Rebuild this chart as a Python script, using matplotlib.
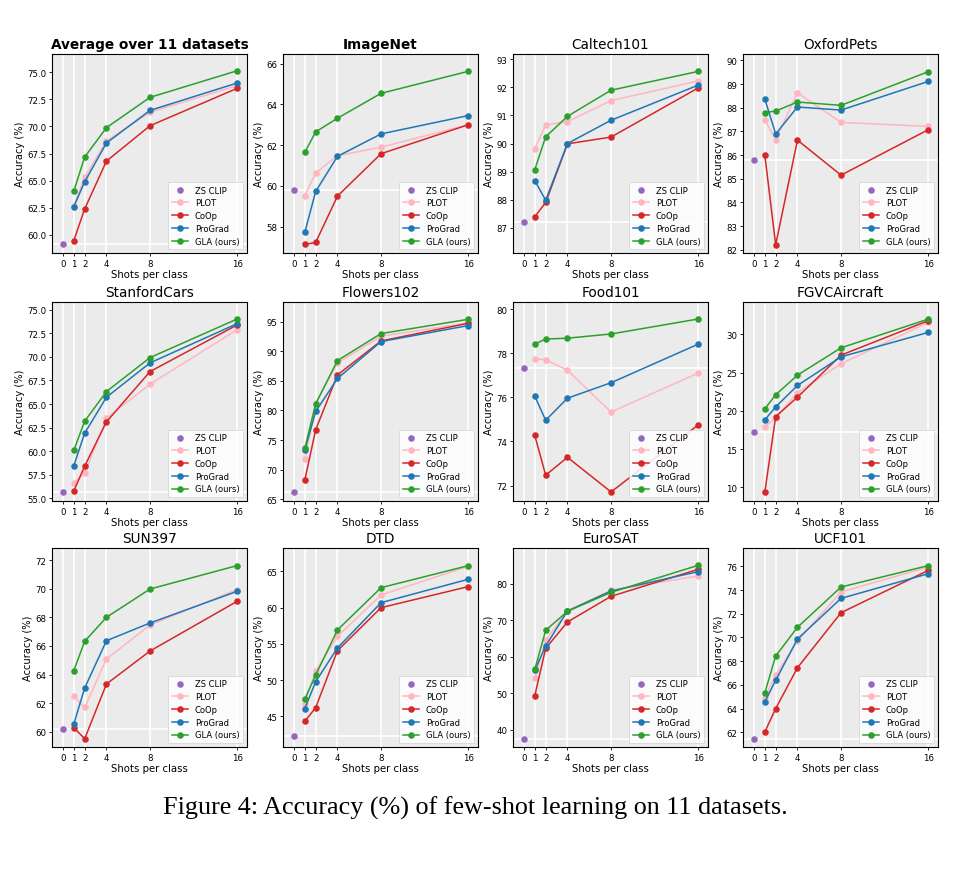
import matplotlib
matplotlib.use("Agg")
import matplotlib.pyplot as plt

shots = [1, 2, 4, 8, 16]
xticks = [0, 1, 2, 4, 8, 16]

titles = ["Average over 11 datasets", "ImageNet", "Caltech101", "OxfordPets",
          "StanfordCars", "Flowers102", "Food101", "FGVCAircraft",
          "SUN397", "DTD", "EuroSAT", "UCF101"]

zs_clip = [59.17, 59.8, 87.2, 85.77, 55.7, 66.2, 77.31, 17.29, 60.21, 42.33, 37.53, 61.47]

plot_vals = [
    [62.7, 65.3, 68.65, 71.3, 73.75],
    [59.53, 60.63, 61.48, 61.9, 63.0],
    [89.82, 90.66, 90.78, 91.53, 92.23],
    [87.49, 86.65, 88.63, 87.38, 87.21],
    [56.66, 57.65, 63.5, 67.1, 72.88],
    [71.85, 81.24, 88.03, 92.53, 94.78],
    [77.75, 77.7, 77.23, 75.33, 77.1],
    [17.95, 19.04, 22.4, 26.16, 31.57],
    [62.47, 61.7, 65.09, 67.47, 69.95],
    [46.75, 51.3, 56.03, 61.74, 65.69],
    [54.06, 64.5, 72.5, 78.17, 82.1],
    [64.9, 66.81, 69.7, 73.84, 75.94],
]
coop_vals = [
    [59.48, 62.4, 66.8, 70.06, 73.5],
    [57.13, 57.23, 59.5, 61.58, 63.0],
    [87.39, 87.9, 89.99, 90.23, 91.98],
    [86.01, 82.21, 86.63, 85.15, 87.07],
    [55.78, 58.42, 63.11, 68.44, 73.38],
    [68.26, 76.74, 86.0, 91.74, 94.72],
    [74.27, 72.47, 73.28, 71.71, 74.75],
    [9.34, 19.26, 21.79, 27.29, 31.79],
    [60.28, 59.51, 63.34, 65.65, 69.13],
    [44.31, 46.2, 54.06, 59.99, 62.89],
    [49.32, 62.28, 69.5, 76.53, 83.93],
    [62.03, 64.0, 67.45, 72.09, 75.66],
]
prograd_vals = [
    [62.6, 64.9, 68.47, 71.47, 73.99],
    [57.72, 59.73, 61.45, 62.55, 63.45],
    [88.68, 87.98, 90.0, 90.83, 92.08],
    [88.37, 86.89, 88.03, 87.9, 89.11],
    [58.46, 61.91, 65.72, 69.36, 73.52],
    [73.26, 79.83, 85.4, 91.63, 94.33],
    [76.05, 74.96, 75.96, 76.66, 78.41],
    [18.82, 20.52, 23.32, 27.07, 30.26],
    [60.54, 63.06, 66.37, 67.61, 69.83],
    [46.06, 49.78, 54.43, 60.68, 63.9],
    [56.26, 62.92, 72.51, 77.99, 83.29],
    [64.56, 66.39, 69.87, 73.3, 75.38],
]
gla_vals = [
    [64.02, 67.18, 69.88, 72.67, 75.12],
    [61.65, 62.65, 63.32, 64.54, 65.62],
    [89.07, 90.24, 90.97, 91.9, 92.57],
    [87.79, 87.86, 88.24, 88.1, 89.52],
    [60.08, 63.18, 66.32, 69.92, 74.01],
    [73.6, 81.12, 88.43, 92.98, 95.39],
    [78.41, 78.64, 78.68, 78.87, 79.55],
    [20.26, 22.1, 24.67, 28.25, 32.0],
    [64.27, 66.33, 68.01, 69.99, 71.63],
    [47.39, 50.7, 56.91, 62.75, 65.78],
    [56.53, 67.21, 72.42, 77.63, 85.02],
    [65.32, 68.44, 70.86, 74.26, 76.06],
]
ylims = [
    (58.34, 76.66), (56.71, 66.47), (86.10, 93.19), (81.86, 90.27),
    (54.72, 75.81), (64.72, 98.31), (71.30, 80.32), (8.21, 34.24),
    (58.93, 72.86), (40.77, 68.22), (35.25, 89.77), (60.76, 77.55),
]

C_ZS = "#9467bd"
C_PLOT = "#ffb6c1"
C_COOP = "#d62728"
C_PG = "#1f77b4"
C_GLA = "#2ca02c"

W, H = 977, 870
fig = plt.figure(figsize=(W / 100, H / 100), dpi=100)

col_left = [52, 283, 513, 743]
row_bottom = [254, 502, 748]
aw, ah = 195, 199

for i, title in enumerate(titles):
    r, c = divmod(i, 4)
    ax = fig.add_axes([col_left[c] / W, 1 - row_bottom[r] / H, aw / W, ah / H])
    ax.set_facecolor("#ebebeb")
    ax.set_axisbelow(True)
    ax.grid(axis="x", color="white", lw=1.2)
    ax.axhline(zs_clip[i], color="white", lw=1.2, zorder=0.5)
    ms = 3.7
    lw = 1.1
    ax.plot([0], [zs_clip[i]], "o", color=C_ZS, ms=ms, label="ZS CLIP", lw=0)
    ax.plot(shots, plot_vals[i], "-o", color=C_PLOT, ms=ms, lw=lw, label="PLOT")
    ax.plot(shots, coop_vals[i], "-o", color=C_COOP, ms=ms, lw=lw, label="CoOp")
    ax.plot(shots, prograd_vals[i], "-o", color=C_PG, ms=ms, lw=lw, label="ProGrad")
    ax.plot(shots, gla_vals[i], "-o", color=C_GLA, ms=ms, lw=lw, label="GLA (ours)")
    ax.set_xticks(xticks)
    ax.set_xlim(-1.0, 16.9)
    ax.set_ylim(*ylims[i])
    ax.tick_params(labelsize=6.2, length=2.5, width=0.6, pad=1.5)
    ax.set_xlabel("Shots per class", fontsize=7.3, labelpad=1)
    ax.set_ylabel("Accuracy (%)", fontsize=7.1, labelpad=2)
    if i < 2:
        ax.set_title(title, fontsize=9.8, fontweight="bold", pad=4)
    else:
        ax.set_title(title, fontsize=9.8, pad=4)
    for s in ax.spines.values():
        s.set_linewidth(0.8)
    leg = ax.legend(loc="lower right", fontsize=6.0, frameon=True, framealpha=0.85,
                    edgecolor="#cccccc", fancybox=True, borderpad=0.45,
                    labelspacing=0.45, handlelength=2.0, borderaxespad=0.45)
    leg.get_frame().set_linewidth(0.5)

fig.text(475 / W, 1 - 808 / H, "Figure 4: Accuracy (%) of few-shot learning on 11 datasets.",
         ha="center", va="center", fontsize=18.8, family="Liberation Serif")

fig.savefig("out.png", dpi=100, facecolor="white")
